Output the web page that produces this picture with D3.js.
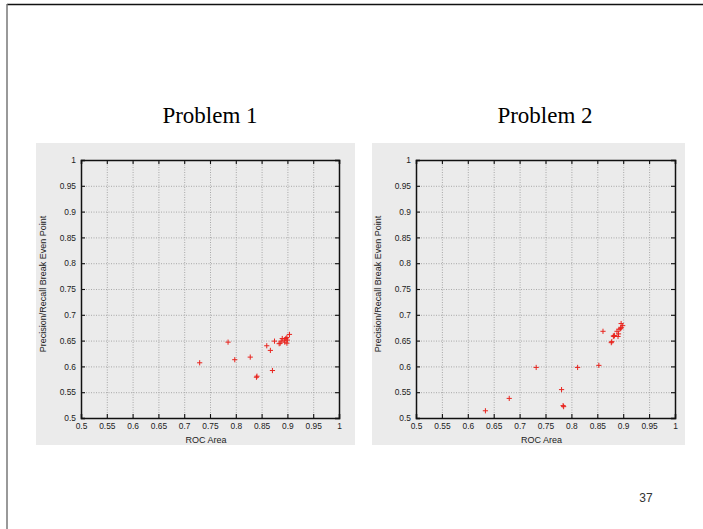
<!DOCTYPE html>
<html>
<head>
<meta charset="utf-8">
<script src="https://cdn.jsdelivr.net/npm/d3@7"></script>
<style>
  html, body { margin: 0; padding: 0; background: #fff; }
  svg { display: block; }
</style>
</head>
<body>
<svg id="slide"></svg>
<script>
// ---- data ----
const tickValues = [0.5, 0.55, 0.6, 0.65, 0.7, 0.75, 0.8, 0.85, 0.9, 0.95, 1];
const tickLabels = ["0.5", "0.55", "0.6", "0.65", "0.7", "0.75", "0.8", "0.85", "0.9", "0.95", "1"];

const panelTitles = ["Problem 1", "Problem 2"];
const xLabel = "ROC Area";
const yLabel = "Precision/Recall Break Even Point";
const pageNumber = "37";

// [ROC area, precision/recall BEP]
const problem1Points = [
    [0.730, 0.607], [0.785, 0.647], [0.798, 0.613], [0.828, 0.618],
    [0.840, 0.579], [0.841, 0.581], [0.860, 0.640], [0.867, 0.631],
    [0.871, 0.592], [0.875, 0.649], [0.884, 0.644], [0.886, 0.645],
    [0.888, 0.649], [0.890, 0.654], [0.894, 0.651], [0.895, 0.647],
    [0.897, 0.654], [0.899, 0.645], [0.900, 0.651], [0.899, 0.656],
    [0.904, 0.662]
];

const problem2Points = [
    [0.634, 0.514], [0.680, 0.538], [0.732, 0.598], [0.781, 0.555],
    [0.784, 0.524], [0.785, 0.522], [0.812, 0.598], [0.853, 0.602],
    [0.861, 0.668], [0.877, 0.646], [0.878, 0.648], [0.881, 0.659],
    [0.883, 0.660], [0.882, 0.658], [0.888, 0.668], [0.890, 0.658],
    [0.891, 0.663], [0.892, 0.672], [0.895, 0.673], [0.896, 0.675],
    [0.896, 0.683], [0.899, 0.679]
];

const panelData = [problem1Points, problem2Points];

// ---- layout ----
const width = 703;
const height = 529;

const svg = d3.select("#slide")
    .attr("width", width)
    .attr("height", height);

svg.append("rect")
    .attr("width", width)
    .attr("height", height)
    .attr("fill", "#fff");

// slide frame (top + left edges only)
svg.append("line")
    .attr("x1", 7).attr("x2", width)
    .attr("y1", 4.5).attr("y2", 4.5)
    .attr("stroke", "#111").attr("stroke-width", 1.5);
svg.append("line")
    .attr("x1", 7).attr("x2", 7)
    .attr("y1", 4).attr("y2", height)
    .attr("stroke", "#777").attr("stroke-width", 1.5);

const panels = [
    { bg: [36, 143, 319, 302], plot: { left: 81, top: 160, w: 258, h: 258 }, titleX: 210 },
    { bg: [372, 143, 313, 302], plot: { left: 416, top: 160, w: 259, h: 258 }, titleX: 545 }
];

const tickFont = "'Liberation Sans', Arial, sans-serif";

panels.forEach((p, i) => {
    const pts = panelData[i];
    const { left, top, w, h } = p.plot;

    // title
    svg.append("text")
        .attr("x", p.titleX)
        .attr("y", 123)
        .attr("text-anchor", "middle")
        .style("font-family", "'Liberation Serif', 'Times New Roman', serif")
        .style("font-size", "23px")
        .style("fill", "#000")
        .text(panelTitles[i]);

    // gray panel background
    svg.append("rect")
        .attr("x", p.bg[0]).attr("y", p.bg[1])
        .attr("width", p.bg[2]).attr("height", p.bg[3])
        .attr("fill", "#ebebeb");

    const g = svg.append("g")
        .attr("transform", `translate(${left}, ${top})`);

    const x = d3.scaleLinear().domain([0.5, 1]).range([0, w]);
    const y = d3.scaleLinear().domain([0.5, 1]).range([h, 0]);

    const inner = tickValues.slice(1, -1);

    // grid
    g.append("g")
        .attr("class", "grid")
        .attr("transform", `translate(0, ${h})`)
        .call(d3.axisBottom(x).tickValues(inner).tickSize(-h).tickFormat(""))
        .call(s => s.select(".domain").remove());
    g.append("g")
        .attr("class", "grid")
        .call(d3.axisLeft(y).tickValues(inner).tickSize(-w).tickFormat(""))
        .call(s => s.select(".domain").remove());
    g.selectAll(".grid line")
        .attr("stroke", "#a0a0a0")
        .attr("stroke-width", 0.9)
        .attr("stroke-dasharray", "1,1.5");

    // axes with inward ticks on all sides
    const fmt = (d, k) => tickLabels[k];

    const xb = g.append("g")
        .attr("transform", `translate(0, ${h})`)
        .call(d3.axisBottom(x).tickValues(tickValues).tickSize(-4).tickPadding(5).tickFormat(fmt));
    const xt = g.append("g")
        .call(d3.axisTop(x).tickValues(tickValues).tickSize(-4).tickFormat(""));
    const yl = g.append("g")
        .call(d3.axisLeft(y).tickValues(tickValues).tickSize(-4).tickPadding(5).tickFormat(fmt));
    const yr = g.append("g")
        .attr("transform", `translate(${w}, 0)`)
        .call(d3.axisRight(y).tickValues(tickValues).tickSize(-4).tickFormat(""));

    [xb, xt, yl, yr].forEach(a => {
        a.select(".domain").attr("stroke", "#111").attr("stroke-width", 1.5);
        a.selectAll(".tick line").attr("stroke", "#111").attr("stroke-width", 1.1);
        a.selectAll(".tick text")
            .style("font-family", tickFont)
            .style("font-size", "8.4px")
            .style("fill", "#222");
    });

    // axis labels
    g.append("text")
        .attr("x", w / 2 - 4)
        .attr("y", 443 - top)
        .attr("text-anchor", "middle")
        .style("font-family", tickFont)
        .style("font-size", "9px")
        .style("fill", "#222")
        .text(xLabel);

    g.append("text")
        .attr("transform", `translate(-35, ${h / 2 - 5}) rotate(-90)`)
        .attr("text-anchor", "middle")
        .style("font-family", tickFont)
        .style("font-size", "9px")
        .style("fill", "#222")
        .text(yLabel);

    // "+" markers
    const r = 2.6;
    g.selectAll("path.pt")
        .data(pts)
        .join("path")
        .attr("class", "pt")
        .attr("d", d => {
            const cx = x(d[0]), cy = y(d[1]);
            return `M${cx - r},${cy}H${cx + r}M${cx},${cy - r}V${cy + r}`;
        })
        .attr("stroke", "#e8251f")
        .attr("stroke-width", 1)
        .attr("fill", "none");
});

// page number
svg.append("text")
    .attr("x", 646)
    .attr("y", 502)
    .attr("text-anchor", "middle")
    .style("font-family", "'Liberation Sans', Arial, sans-serif")
    .style("font-size", "12px")
    .style("fill", "#333")
    .text(pageNumber);
</script>
</body>
</html>
